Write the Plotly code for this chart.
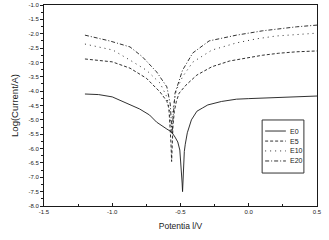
import plotly.graph_objects as go

# E0 (solid)
e0_x = [-1.2, -1.1, -1.0, -0.9, -0.8, -0.727, -0.675, -0.6, -0.566, -0.54, -0.52, -0.505, -0.495,
        -0.488, -0.485, -0.482, -0.478, -0.472, -0.465, -0.45, -0.42, -0.38, -0.34, -0.3, -0.2,
        -0.09, 0.0, 0.1, 0.2, 0.35, 0.5]
e0_y = [-4.10, -4.12, -4.20, -4.40, -4.62, -4.83, -5.08, -5.32, -5.42, -5.60, -5.77, -6.05, -6.60,
        -7.20, -7.50, -7.10, -6.50, -6.10, -5.85, -5.45, -5.00, -4.70, -4.59, -4.48, -4.36,
        -4.28, -4.26, -4.24, -4.21, -4.19, -4.17]

# E5 (dashed)
e5_x = [-1.2, -1.1, -1.0, -0.87, -0.75, -0.65, -0.6, -0.585, -0.575, -0.57, -0.565, -0.56, -0.555,
        -0.545, -0.53, -0.51, -0.46, -0.38, -0.27, -0.14, -0.02, 0.1, 0.22, 0.35, 0.5]
e5_y = [-2.88, -2.92, -2.98, -3.20, -3.55, -4.03, -4.35, -4.60, -5.20, -5.80, -6.45, -5.80, -5.20,
        -4.70, -4.35, -4.07, -3.79, -3.44, -3.15, -2.95, -2.84, -2.75, -2.68, -2.63, -2.60]

# E10 (dotted)
e10_x = [-1.2, -1.1, -0.995, -0.87, -0.75, -0.65, -0.6, -0.585, -0.575, -0.568, -0.56, -0.55,
         -0.53, -0.485, -0.41, -0.27, -0.09, 0.055, 0.2, 0.35, 0.5]
e10_y = [-2.36, -2.45, -2.57, -2.92, -3.27, -3.72, -4.20, -4.55, -5.00, -5.30, -4.90, -4.45,
         -3.96, -3.50, -2.99, -2.57, -2.32, -2.18, -2.08, -2.02, -1.98]

# E20 (dash-dot)
e20_x = [-1.2, -1.1, -1.02, -0.87, -0.78, -0.675, -0.6, -0.575, -0.568, -0.562, -0.556, -0.54,
         -0.485, -0.41, -0.29, -0.09, 0.1, 0.22, 0.35, 0.5]
e20_y = [-2.05, -2.15, -2.25, -2.46, -2.80, -3.33, -3.85, -4.45, -5.10, -5.50, -5.00, -4.07,
         -3.27, -2.67, -2.25, -2.05, -1.90, -1.82, -1.76, -1.70]

series_names = ["E0", "E5", "E10", "E20"]
series_x = [e0_x, e5_x, e10_x, e20_x]
series_y = [e0_y, e5_y, e10_y, e20_y]
series_dash = ["solid", "3px,2px", "1px,4px", "4px,2px,1px,2px"]

x_ticks = [-1.5, -1.0, -0.5, 0.0, 0.5]
y_ticks = [-1.0, -1.5, -2.0, -2.5, -3.0, -3.5, -4.0, -4.5, -5.0, -5.5, -6.0, -6.5, -7.0, -7.5, -8.0]

ink = "#1a1a1a"
font = "Liberation Sans, Arial, sans-serif"

fig = go.Figure()
for name, xs, ys, dash in zip(series_names, series_x, series_y, series_dash):
    fig.add_trace(go.Scatter(x=xs, y=ys, mode="lines", name=name, showlegend=False,
                             line=dict(color=ink, width=0.9, dash=dash)))

# hand-drawn legend box (paper coordinates)
fig.add_shape(type="rect", xref="paper", yref="paper", x0=0.799, x1=0.952, y0=0.164, y1=0.428,
              line=dict(color="#333333", width=1), fillcolor="white", layer="above")
leg_y = [0.373, 0.323, 0.274, 0.224]
for name, dash, ly in zip(series_names, series_dash, leg_y):
    fig.add_shape(type="line", xref="paper", yref="paper", x0=0.81, x1=0.886, y0=ly, y1=ly,
                  line=dict(color=ink, width=0.9, dash=dash), layer="above")
    fig.add_annotation(text=name, xref="paper", yref="paper", x=0.892, y=ly,
                       xanchor="left", yanchor="middle", showarrow=False,
                       font=dict(size=7, family=font, color=ink))

fig.update_layout(
    width=329, height=240,
    margin=dict(l=44, r=12, t=5, b=34, autoexpand=False),
    paper_bgcolor="white", plot_bgcolor="white",
    font=dict(family=font, color=ink),
    showlegend=False,
    xaxis=dict(range=[-1.5, 0.5], tickvals=x_ticks, automargin=False,
               ticktext=[f"{v:.1f}" for v in x_ticks],
               showgrid=False, zeroline=False, showline=True, linecolor=ink,
               linewidth=1, mirror=True, ticks="inside", ticklen=3, tickcolor=ink,
               minor=dict(dtick=0.25, ticks="inside", ticklen=2, tickcolor=ink),
               tickfont=dict(size=6, color=ink),
               title=dict(text="Potentia l/V", font=dict(size=8.5, color=ink), standoff=8)),
    yaxis=dict(range=[-8.0, -1.0], tickvals=y_ticks, automargin=False,
               ticktext=[f"{v:.1f}" for v in y_ticks],
               showgrid=False, zeroline=False, showline=True, linecolor=ink,
               linewidth=1, mirror=True, ticks="outside", ticklen=3, tickcolor=ink,
               minor=dict(dtick=0.25, ticks="outside", ticklen=2, tickcolor=ink),
               tickfont=dict(size=6, color=ink),
               title=dict(text="Log(Current/A)", font=dict(size=9.5, color=ink), standoff=8)),
)

fig.write_html("out.html", config={"displayModeBar": False},
               post_script="document.body.style.margin='0';document.body.style.overflow='hidden';")
